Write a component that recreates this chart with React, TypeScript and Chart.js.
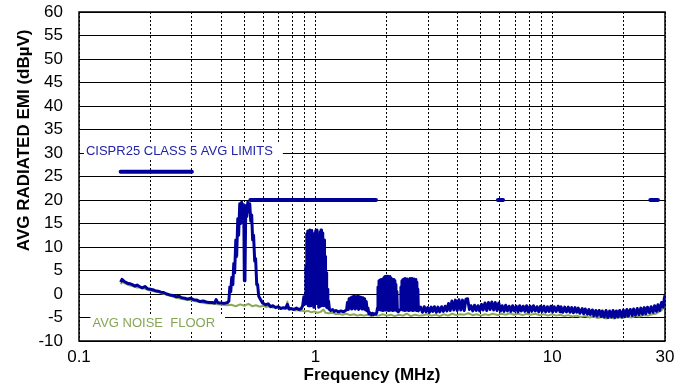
import { useEffect, useRef } from "react";
import { Chart, registerables } from "chart.js";

Chart.register(...registerables);

const FONT = '"Liberation Sans", Arial, Helvetica, sans-serif';

// ---- data: [frequency MHz, level dBµV] ----
const emiBelowAM: [number, number][] = [
  [0.150, 2.5], [0.152, 3.1], [0.156, 2.6], [0.160, 2.3], [0.164, 2.2], [0.168, 2.0], [0.172, 1.7],
  [0.176, 1.9], [0.180, 1.6], [0.185, 1.3], [0.190, 1.6], [0.195, 1.1], [0.200, 1.0], [0.205, 0.9],
  [0.210, 0.7], [0.216, 0.6], [0.222, 0.4], [0.228, 0.3], [0.235, 0.0], [0.242, -0.2], [0.250, -0.3],
  [0.258, -0.6], [0.265, -0.5], [0.272, -0.8], [0.280, -0.9], [0.288, -1.1], [0.296, -0.9], [0.305, -1.2],
  [0.315, -1.3], [0.325, -1.6], [0.335, -1.5], [0.345, -1.7], [0.355, -1.8], [0.365, -1.8], [0.375, -1.9],
  [0.380, -1.2], [0.385, -1.8], [0.392, -1.9], [0.400, -1.9], [0.410, -2.0], [0.418, -1.9], [0.425, -1.8],
];

const emiBurst1: [number, number][] = [
  [0.430, -1.5], [0.434, 1.5], [0.438, 0.5], [0.442, 3.5], [0.447, 2.0], [0.451, 6.5], [0.455, 4.5],
  [0.460, 11.5], [0.464, 8.0], [0.469, 16.0], [0.473, 12.5], [0.478, 19.2], [0.483, 15.0], [0.487, 19.5],
  [0.492, 17.0], [0.497, 19.0], [0.500, 2.8], [0.503, 3.2], [0.507, 18.8], [0.512, 16.5], [0.517, 19.5],
  [0.522, 17.5], [0.527, 19.2], [0.532, 15.5], [0.537, 16.8], [0.542, 11.5], [0.547, 12.5], [0.553, 7.0],
  [0.558, 7.5], [0.564, 2.0], [0.569, 2.0], [0.575, -0.5], [0.586, -1.2], [0.597, -1.9], [0.615, -2.3],
  [0.630, -2.1], [0.646, -2.7], [0.660, -2.5], [0.678, -2.9], [0.695, -2.7], [0.712, -3.1], [0.730, -2.9],
  [0.747, -3.0], [0.760, -2.2], [0.772, -3.2], [0.790, -3.1], [0.810, -3.3], [0.830, -3.0], [0.850, -3.3],
  [0.870, -3.1], [0.882, -2.5], [0.892, -0.6], [0.900, -2.2],
];

const emiBurst2: [number, number][] = [
  [0.905, -2.0], [0.910, 6.0], [0.914, -1.5], [0.918, 12.8], [0.922, -2.0], [0.927, 13.4], [0.931, -2.5],
  [0.936, 13.0], [0.941, -2.0], [0.945, 13.6], [0.950, -2.5], [0.955, 13.3], [0.960, -1.5], [0.964, 13.5],
  [0.969, 1.5], [0.974, 12.8], [0.979, 2.0], [0.983, -2.8], [0.990, -2.8], [0.995, 13.0], [1.000, 1.5],
  [1.004, 13.5], [1.009, -2.0], [1.014, 13.6], [1.019, 1.8], [1.024, 12.5], [1.029, 2.0], [1.033, -2.8],
  [1.040, -2.7], [1.045, 13.2], [1.050, -2.0], [1.055, 13.6], [1.060, -2.5], [1.065, 13.0], [1.070, -1.5],
  [1.075, 12.6], [1.081, -2.5], [1.086, 11.5], [1.091, -2.0], [1.097, 8.0], [1.102, -2.5], [1.108, 4.5],
  [1.114, -2.8], [1.120, 1.0], [1.127, -3.0], [1.135, -1.5], [1.145, -3.3], [1.160, -3.5], [1.180, -3.3],
  [1.200, -3.7], [1.220, -3.5], [1.250, -3.8], [1.280, -3.6], [1.310, -3.8], [1.340, -3.5],
];

const emiBump3: [number, number][] = [
  [1.352, -3.4], [1.364, -1.8], [1.375, -3.3], [1.387, -1.0], [1.398, -3.0], [1.410, -0.8], [1.422, -3.2],
  [1.434, -0.6], [1.446, -3.0], [1.458, -0.5], [1.470, -3.2], [1.483, -0.6], [1.495, -3.0], [1.508, -0.5],
  [1.520, -3.3], [1.533, -0.6], [1.546, -3.0], [1.559, -0.7], [1.572, -3.2], [1.585, -0.8], [1.598, -3.0],
  [1.612, -1.0], [1.625, -3.4], [1.638, -1.6], [1.652, -3.6], [1.665, -3.0], [1.680, -4.2], [1.700, -4.0],
  [1.720, -4.4], [1.740, -4.1], [1.760, -4.4], [1.780, -4.2], [1.800, -4.3], [1.815, -3.9],
];

const emiBurst4: [number, number][] = [
  [1.827, -3.0], [1.836, 1.5], [1.845, -3.3], [1.854, 2.8], [1.863, -3.2], [1.872, 3.0], [1.881, -3.4],
  [1.890, 3.1], [1.899, -3.3], [1.909, 2.9], [1.918, -3.5], [1.927, 3.2], [1.936, -3.3], [1.946, 3.5],
  [1.955, -3.4], [1.965, 3.7], [1.974, -3.2], [1.984, 3.8], [1.994, -3.4], [2.003, 3.6], [2.013, -3.3],
  [2.022, 3.8], [2.032, -3.5], [2.042, 3.6], [2.052, -3.2], [2.062, 3.7], [2.072, -3.4], [2.082, 3.4],
  [2.092, -3.3], [2.103, 3.2], [2.113, -3.5], [2.123, 3.0], [2.133, -3.3], [2.144, 3.1], [2.154, -3.4],
  [2.165, 2.8], [2.175, -3.2], [2.186, 2.0], [2.196, -3.5], [2.207, 0.5], [2.218, -3.6], [2.235, -3.8],
  [2.255, -3.5],
];

const emiBurst5: [number, number][] = [
  [2.284, -3.3], [2.295, 1.5], [2.307, -3.2], [2.318, 2.8], [2.330, -3.4], [2.341, 3.1], [2.352, -3.3],
  [2.364, 3.2], [2.375, -3.5], [2.386, 3.3], [2.398, -3.2], [2.410, 3.1], [2.422, -3.4], [2.433, 3.2],
  [2.445, -3.3], [2.457, 2.6], [2.469, -3.5], [2.481, 3.0], [2.493, -3.3], [2.505, 3.3], [2.517, -3.4],
  [2.530, 3.2], [2.542, -3.2], [2.554, 3.3], [2.567, -3.5], [2.579, 3.1], [2.592, -3.3], [2.604, 3.2],
  [2.617, -3.4], [2.630, 3.0], [2.643, -3.3], [2.655, 3.1], [2.668, -3.5], [2.681, 2.5], [2.694, -3.3],
  [2.707, 1.0], [2.721, -3.6], [2.740, -3.0],
];

const emiHighBand: [number, number][] = [
  [2.78, -2.8], [2.83, -3.9], [2.88, -2.7], [2.93, -3.8], [2.98, -2.9], [3.03, -3.9], [3.08, -2.8],
  [3.13, -3.7], [3.18, -2.7], [3.24, -3.9], [3.29, -2.8], [3.35, -3.8], [3.41, -2.7], [3.47, -3.7],
  [3.53, -2.6], [3.59, -3.6], [3.65, -2.0], [3.71, -3.5], [3.77, -1.5], [3.84, -3.4], [3.90, -1.3],
  [3.97, -3.5], [4.04, -1.2], [4.11, -3.4], [4.18, -1.3], [4.25, -3.5], [4.32, -1.1], [4.39, -1.0],
  [4.47, -3.3], [4.54, -2.5], [4.62, -3.6], [4.70, -2.4], [4.78, -3.5], [4.86, -2.5], [4.94, -3.6],
  [5.03, -2.2], [5.11, -3.4], [5.20, -1.9], [5.29, -3.5], [5.38, -1.8], [5.47, -3.3], [5.56, -1.7],
  [5.66, -3.4], [5.75, -1.8], [5.85, -3.5], [5.95, -1.9], [6.05, -3.6], [6.15, -2.5], [6.26, -3.7],
  [6.36, -2.4], [6.47, -3.6], [6.58, -2.6], [6.70, -3.7], [6.81, -2.5], [6.93, -3.6], [7.05, -2.6],
  [7.17, -3.8], [7.29, -2.5], [7.41, -3.6], [7.54, -2.6], [7.67, -3.7], [7.80, -2.5], [7.93, -3.8],
  [8.07, -2.6], [8.20, -3.7], [8.34, -2.5], [8.49, -3.6], [8.63, -2.7], [8.78, -3.8], [8.93, -2.6],
  [9.08, -3.7], [9.23, -2.6], [9.39, -3.8], [9.55, -2.7], [9.71, -3.7], [9.88, -2.6], [10.05, -3.8],
  [10.2, -2.7], [10.4, -3.7], [10.6, -2.6], [10.8, -3.8], [10.9, -2.7], [11.1, -3.9], [11.3, -2.8],
  [11.5, -3.8], [11.7, -2.8], [11.9, -3.9], [12.1, -2.9], [12.3, -4.0], [12.5, -2.9], [12.7, -3.9],
  [12.9, -3.0], [13.1, -4.1], [13.4, -3.1], [13.6, -4.2], [13.8, -3.2], [14.1, -4.3], [14.3, -3.3],
  [14.5, -4.4], [14.8, -3.4], [15.0, -4.6], [15.3, -3.5], [15.5, -4.7], [15.8, -3.5], [16.1, -4.8],
  [16.3, -3.6], [16.6, -4.9], [16.9, -3.5], [17.2, -5.0], [17.5, -3.6], [17.8, -4.9], [18.1, -3.5],
  [18.4, -5.0], [18.7, -3.6], [19.0, -4.9], [19.3, -3.5], [19.7, -4.9], [20.0, -3.4], [20.3, -4.8],
  [20.7, -3.3], [21.0, -4.7], [21.4, -3.3], [21.8, -4.6], [22.1, -3.2], [22.5, -4.5], [22.9, -3.1],
  [23.3, -4.4], [23.7, -3.0], [24.1, -4.3], [24.5, -2.9], [24.9, -4.2], [25.3, -2.8], [25.8, -4.0],
  [26.2, -2.7], [26.7, -3.9], [27.1, -2.5], [27.6, -3.7], [28.0, -2.3], [28.5, -3.5], [29.0, -1.8],
  [29.5, -2.8], [29.8, -0.9], [30.0, -0.3],
];

const noiseFloor: [number, number][] = [
  [0.150, 2.1], [0.153, 2.6], [0.157, 2.2], [0.162, 1.9], [0.168, 1.7], [0.175, 1.4], [0.182, 1.4],
  [0.190, 1.1], [0.198, 0.8], [0.207, 0.6], [0.216, 0.4], [0.226, 0.1], [0.236, -0.2], [0.247, -0.5],
  [0.258, -0.8], [0.270, -1.0], [0.282, -1.2], [0.295, -1.3], [0.308, -1.5], [0.322, -1.7], [0.337, -1.9],
  [0.352, -2.0], [0.368, -2.1], [0.385, -2.2], [0.402, -2.3], [0.42, -2.4], [0.44, -2.3], [0.46, -2.6],
  [0.48, -2.2], [0.50, -2.5], [0.52, -2.1], [0.54, -2.6], [0.56, -2.4], [0.58, -2.7], [0.60, -2.5],
  [0.62, -2.8], [0.64, -2.6], [0.66, -2.9], [0.68, -2.7], [0.70, -3.0], [0.72, -2.9], [0.74, -3.2],
  [0.755, -3.0], [0.760, -1.6], [0.765, -3.1], [0.78, -3.3], [0.80, -3.2], [0.82, -3.5], [0.84, -3.4],
  [0.86, -3.6], [0.88, -3.5], [0.90, -3.7], [0.93, -3.6], [0.96, -3.9], [0.99, -3.7], [1.02, -4.0],
  [1.05, -3.8], [1.08, -3.3], [1.10, -4.0], [1.14, -4.1], [1.18, -4.0], [1.22, -4.3], [1.26, -4.2],
  [1.30, -4.4], [1.35, -4.2], [1.40, -4.5], [1.45, -4.3], [1.50, -4.6], [1.55, -4.4], [1.60, -4.6],
  [1.66, -4.4], [1.72, -4.7], [1.78, -4.5], [1.85, -4.6], [1.92, -4.3], [2.00, -4.6], [2.08, -4.4],
  [2.16, -4.7], [2.25, -4.4], [2.34, -4.6], [2.43, -4.2], [2.53, -4.7], [2.63, -4.4], [2.74, -4.6],
  [2.85, -4.5], [2.97, -4.3], [3.09, -4.6], [3.22, -4.4], [3.35, -4.7], [3.49, -4.3], [3.63, -4.6],
  [3.78, -4.2], [3.93, -4.5], [4.09, -4.3], [4.26, -4.4], [4.43, -4.1], [4.61, -4.5], [4.80, -4.3],
  [5.0, -4.6], [5.2, -4.3], [5.4, -4.5], [5.6, -4.2], [5.9, -4.5], [6.1, -4.2], [6.4, -4.4],
  [6.6, -4.1], [6.9, -4.4], [7.2, -4.2], [7.5, -4.5], [7.8, -4.2], [8.1, -4.4], [8.5, -4.2],
  [8.8, -4.5], [9.2, -4.3], [9.6, -4.6], [10.0, -4.3], [10.4, -4.6], [10.8, -4.4], [11.3, -4.7],
  [11.7, -4.5], [12.2, -4.8], [12.7, -4.6], [13.2, -4.9], [13.8, -4.7], [14.4, -5.0], [15.0, -4.8],
  [15.6, -5.1], [16.2, -4.9], [16.9, -5.2], [17.6, -5.0], [18.3, -5.2], [19.1, -4.9], [19.9, -5.1],
  [20.7, -4.8], [21.6, -5.0], [22.5, -4.7], [23.4, -4.8], [24.4, -4.5], [25.4, -4.6], [26.4, -4.3],
  [27.5, -4.2], [28.3, -3.8], [29.0, -3.5], [29.5, -3.0], [30.0, -2.4],
];

// CISPR25 class 5 average limit bands
const limitStartMHz = [0.15, 0.53, 5.9, 26];
const limitEndMHz = [0.3, 1.8, 6.2, 28];
const limitLevel = [26, 20, 20, 20];

// axes
const xGridMHz = [0.1, 0.2, 0.3, 0.4, 0.5, 0.6, 0.7, 0.8, 0.9, 1, 2, 3, 4, 5, 6, 7, 8, 9, 10, 20, 30];
const xLabelMHz = [0.1, 1, 10, 30];
const yMin = -10;
const yMax = 60;
const yStep = 5;

// text notes
const noteText = ["CISPR25 CLASS 5 AVG LIMITS", "AVG NOISE  FLOOR"];
const noteFreqMHz = [0.107, 0.114];
const noteLevel = [30.3, -6.2];
const noteColor = ["#2323A8", "#86A555"];

const xTitle = "Frequency (MHz)";
const yTitle = "AVG RADIATED EMI (dBµV)";

const BLUE = "#00009A";
const GREEN = "#8CAB58";

const toPoints = (arr: [number, number][]) => arr.map(([x, y]) => ({ x, y }));

export default function App() {
  const canvasRef = useRef<HTMLCanvasElement | null>(null);

  useEffect(() => {
    const canvas = canvasRef.current;
    if (!canvas) return;

    const emi = toPoints([
      ...emiBelowAM, ...emiBurst1, ...emiBurst2, ...emiBump3,
      ...emiBurst4, ...emiBurst5, ...emiHighBand,
    ]);
    const floor = toPoints(noiseFloor);
    const limits: { x: number; y: number | null }[] = [];
    limitStartMHz.forEach((s, i) => {
      limits.push({ x: s, y: limitLevel[i] });
      limits.push({ x: limitEndMHz[i], y: limitLevel[i] });
      if (i < limitStartMHz.length - 1) {
        limits.push({ x: (limitEndMHz[i] + limitStartMHz[i + 1]) / 2, y: null });
      }
    });

    const framePlugin = {
      id: "frame",
      beforeDatasetsDraw(chart: any) {
        const { ctx, chartArea: a } = chart;
        ctx.save();
        ctx.strokeStyle = "#000";
        ctx.lineWidth = 1.5;
        ctx.strokeRect(a.left, a.top, a.right - a.left, a.bottom - a.top);
        ctx.restore();
      },
    };

    const notesPlugin = {
      id: "notes",
      afterDatasetsDraw(chart: any) {
        const { ctx } = chart;
        const xs = chart.scales.x;
        const ys = chart.scales.y;
        ctx.save();
        ctx.font = `13px ${FONT}`;
        ctx.textBaseline = "middle";
        ctx.textAlign = "left";
        noteText.forEach((t, i) => {
          const x = xs.getPixelForValue(noteFreqMHz[i]);
          const y = ys.getPixelForValue(noteLevel[i]);
          const w = ctx.measureText(t).width;
          ctx.fillStyle = "#fff";
          ctx.fillRect(x - 2, y - 8, w + 12, 16);
          ctx.fillStyle = noteColor[i];
          ctx.fillText(t, x, y);
        });
        ctx.restore();
      },
    };

    const yTitlePlugin = {
      id: "yTitle",
      afterDraw(chart: any) {
        const { ctx, chartArea: a } = chart;
        ctx.save();
        ctx.font = `bold 17px ${FONT}`;
        ctx.fillStyle = "#000";
        ctx.textAlign = "center";
        ctx.textBaseline = "middle";
        ctx.translate(a.left - 54.5, a.top + (a.bottom - a.top) * 0.39);
        ctx.rotate(-Math.PI / 2);
        ctx.fillText(yTitle, 0, 0);
        ctx.restore();
      },
    };

    const chart = new Chart(canvas, {
      type: "line",
      data: {
        datasets: [
          {
            data: emi,
            borderColor: BLUE,
            borderWidth: 3,
            pointRadius: 0,
            borderJoinStyle: "round",
            tension: 0,
          },
          {
            data: limits as any,
            borderColor: BLUE,
            borderWidth: 4,
            pointRadius: 0,
            spanGaps: false,
            borderCapStyle: "round",
          },
          {
            data: floor,
            borderColor: GREEN,
            borderWidth: 2,
            pointRadius: 0,
            borderJoinStyle: "round",
          },
        ],
      },
      options: {
        responsive: false,
        animation: false,
        events: [],
        layout: { padding: { left: 38, right: 21, top: 12, bottom: 0 } },
        plugins: { legend: { display: false }, tooltip: { enabled: false } },
        scales: {
          x: {
            type: "logarithmic",
            min: 0.1,
            max: 30,
            afterBuildTicks: (scale: any) => {
              scale.ticks = xGridMHz.map((value) => ({ value }));
            },
            afterFit: (scale: any) => {
              scale.height = 47;
            },
            ticks: {
              autoSkip: false,
              maxRotation: 0,
              padding: 6,
              color: "#000",
              font: { family: FONT, size: 17 },
              callback: (value: any) => (xLabelMHz.includes(Number(value)) ? String(value) : ""),
            },
            grid: { color: "#000", lineWidth: 1, drawTicks: false },
            border: { display: false, dash: [2, 2] },
            title: {
              display: true,
              text: xTitle,
              color: "#000",
              font: { family: FONT, size: 17, weight: "bold" },
              padding: { top: 0, bottom: 2 },
            },
          },
          y: {
            type: "linear",
            min: yMin,
            max: yMax,
            afterFit: (scale: any) => {
              scale.width = 41;
              scale.paddingTop = 0;
              scale.paddingBottom = 0;
            },
            ticks: {
              stepSize: yStep,
              autoSkip: false,
              padding: 16,
              color: "#000",
              font: { family: FONT, size: 17 },
            },
            grid: { color: "#000", lineWidth: 1, drawTicks: false },
            border: { display: false },
          },
        },
      },
      plugins: [framePlugin, notesPlugin, yTitlePlugin],
    } as any);

    return () => chart.destroy();
  }, []);

  return (
    <div style={{ position: "fixed", left: 0, top: 0, width: 686, height: 388, background: "#fff" }}>
      <canvas ref={canvasRef} width={686} height={388} style={{ display: "block" }} />
    </div>
  );
}
